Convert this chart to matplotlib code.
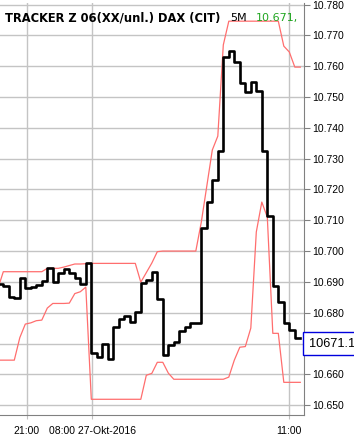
import numpy as np
import matplotlib
matplotlib.use("Agg")
import matplotlib.pyplot as plt

# 5-minute bars (price, stepped)
price = [10.6893, 10.6886, 10.6852, 10.6848, 10.6913, 10.6879, 10.6884, 10.6890, 10.6903, 10.6944,
         10.6898, 10.6928, 10.6942, 10.6928, 10.6913, 10.6893, 10.6960, 10.6668, 10.6657, 10.6697,
         10.6649, 10.6754, 10.6779, 10.6790, 10.6769, 10.6801, 10.6895, 10.6906, 10.6931, 10.6844,
         10.6662, 10.6695, 10.6704, 10.6740, 10.6752, 10.6767, 10.6767, 10.7074, 10.7160, 10.7230,
         10.7325, 10.7631, 10.7650, 10.7614, 10.7544, 10.7517, 10.7549, 10.7520, 10.7325, 10.7113,
         10.6886, 10.6835, 10.6767, 10.6744, 10.6719]

# bands, one point per bar end
upper = [10.6877, 10.6933, 10.6933, 10.6933, 10.6933, 10.6933, 10.6933, 10.6933, 10.6933, 10.6944,
         10.6944, 10.6944, 10.6948, 10.6953, 10.6958, 10.6958, 10.6959, 10.6960, 10.6960, 10.6960,
         10.6960, 10.6960, 10.6960, 10.6960, 10.6960, 10.6960, 10.6899, 10.6930, 10.6961, 10.6998,
         10.7000, 10.7000, 10.7000, 10.7000, 10.7000, 10.7000, 10.7000, 10.7094, 10.7211, 10.7328,
         10.7373, 10.7669, 10.7746, 10.7746, 10.7746, 10.7746, 10.7746, 10.7746, 10.7746, 10.7746,
         10.7746, 10.7746, 10.7665, 10.7646, 10.7597, 10.7597]
lower = [10.6646, 10.6646, 10.6646, 10.6646, 10.6719, 10.6763, 10.6767, 10.6774, 10.6776, 10.6815,
         10.6830, 10.6830, 10.6830, 10.6831, 10.6862, 10.6868, 10.6883, 10.6519, 10.6519, 10.6519,
         10.6519, 10.6519, 10.6519, 10.6519, 10.6519, 10.6519, 10.6519, 10.6597, 10.6603, 10.6639,
         10.6639, 10.6604, 10.6584, 10.6584, 10.6584, 10.6584, 10.6584, 10.6584, 10.6584, 10.6584,
         10.6584, 10.6584, 10.6591, 10.6646, 10.6688, 10.6690, 10.6750, 10.7062, 10.7159, 10.7110,
         10.6733, 10.6733, 10.6574, 10.6574, 10.6574, 10.6574]

xtick_pos = [5.24, 17.13, 52.95]
xtick_labels = ["21:00", "08:00 27-Okt-2016", "11:00"]
yticks = [10.65 + 0.01 * k for k in range(14)]
title = "TRACKER Z 06(XX/unl.) DAX (CIT)"
period = "5M"
last_txt = "10.671,"
last_price = "10671.1"

plt.rcParams["font.family"] = ["Liberation Sans", "DejaVu Sans"]

fig = plt.figure(figsize=(3.54, 4.38), dpi=100)
ax = fig.add_axes([0.0, 23 / 438, 303.5 / 354, 412 / 438])

x = np.arange(len(price) + 1)
ax.plot(x, price + [price[-1]], drawstyle="steps-post", color="black", lw=1.9, zorder=3)
xb = np.arange(len(upper))
ax.plot(xb, upper, color="#ff6e6e", lw=0.9, zorder=2)
ax.plot(xb, lower, color="#ff6e6e", lw=0.9, zorder=2)

ax.set_xlim(0.4, 55.58)
ax.set_ylim(10.6468, 10.7805)

# the 10.670 label sits under the last-price box
ylabels = ["%.3f" % v for v in yticks]
ylabels[2] = ""
ax.set_yticks(yticks)
ax.set_yticklabels(ylabels)
ax.set_xticks(xtick_pos)
ax.set_xticklabels(xtick_labels)
ax.yaxis.tick_right()
ax.tick_params(axis="y", length=4, color="#808080", labelsize=7.5, pad=2)
ax.tick_params(axis="x", length=3, color="#c0c0c0", labelsize=7.5, pad=5)
ax.grid(True, color="#c4c4c4", lw=1)
for s in ["top", "left"]:
    ax.spines[s].set_visible(False)
ax.spines["right"].set_color("#808080")
ax.spines["bottom"].set_color("#808080")

fig.text(5 / 354, 1 - 18 / 438, title, fontsize=8.3, fontweight="bold",
         family="DejaVu Sans", va="center", ha="left")
fig.text(230 / 354, 1 - 18 / 438, period, fontsize=8, family="DejaVu Sans", va="center")
fig.text(256 / 354, 1 - 18 / 438, last_txt, fontsize=8, family="DejaVu Sans",
         color="#1fa51f", va="center")

ax.annotate(last_price, xy=(1, price[-1]), xycoords=("axes fraction", "data"),
            xytext=(4.0, -4.3), textcoords="offset points", fontsize=9.2, va="center", ha="left",
            bbox=dict(boxstyle="square,pad=0.45", fc="white", ec="#0000dd", lw=1),
            annotation_clip=False, zorder=5)

fig.savefig("out.png", dpi=100)
